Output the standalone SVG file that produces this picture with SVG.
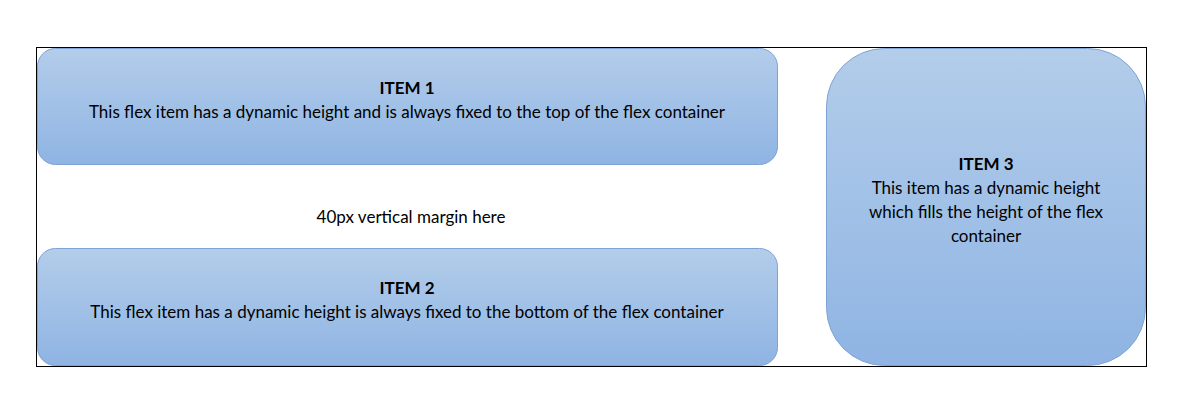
<svg xmlns="http://www.w3.org/2000/svg" width="1202" height="417" viewBox="0 0 1202 417">
<defs>
<linearGradient id="g" x1="0" y1="0" x2="0" y2="1">
<stop offset="0" stop-color="#b3cdea"/>
<stop offset="1" stop-color="#8fb4e3"/>
</linearGradient>
<style>
.box{fill:url(#g);stroke:#7ea4d6;stroke-width:1}
.t{font-family:Lato,"Open Sans",sans-serif;font-size:17px;fill:#000;text-anchor:middle}
.b{font-weight:bold}
</style>
</defs>
<rect x="0" y="0" width="1202" height="417" fill="#fff"/>
<rect x="36.5" y="47.5" width="1110" height="319" fill="#fff" stroke="#000" stroke-width="1"/>
<g id="item1">
<rect class="box" x="37.5" y="48.5" width="740" height="116" rx="18" ry="18"/>
<text class="t b" x="407" y="94">ITEM 1</text>
<text class="t" x="407" y="118">This flex item has a dynamic height and is always fixed to the top of the flex container</text>
</g>
<g id="margin">
<text class="t" x="411" y="223">40px vertical margin here</text>
</g>
<g id="item2">
<rect class="box" x="37.5" y="248.5" width="740" height="117" rx="18" ry="18"/>
<text class="t b" x="407" y="294">ITEM 2</text>
<text class="t" x="407" y="318">This flex item has a dynamic height is always fixed to the bottom of the flex container</text>
</g>
<g id="item3">
<rect class="box" x="826.5" y="48.5" width="319" height="317" rx="58" ry="58"/>
<text class="t b" x="986" y="170">ITEM 3</text>
<text class="t" x="986" y="194">This item has a dynamic height</text>
<text class="t" x="986" y="218">which fills the height of the flex</text>
<text class="t" x="986" y="242">container</text>
</g>
<g id="connectors"></g>
</svg>
